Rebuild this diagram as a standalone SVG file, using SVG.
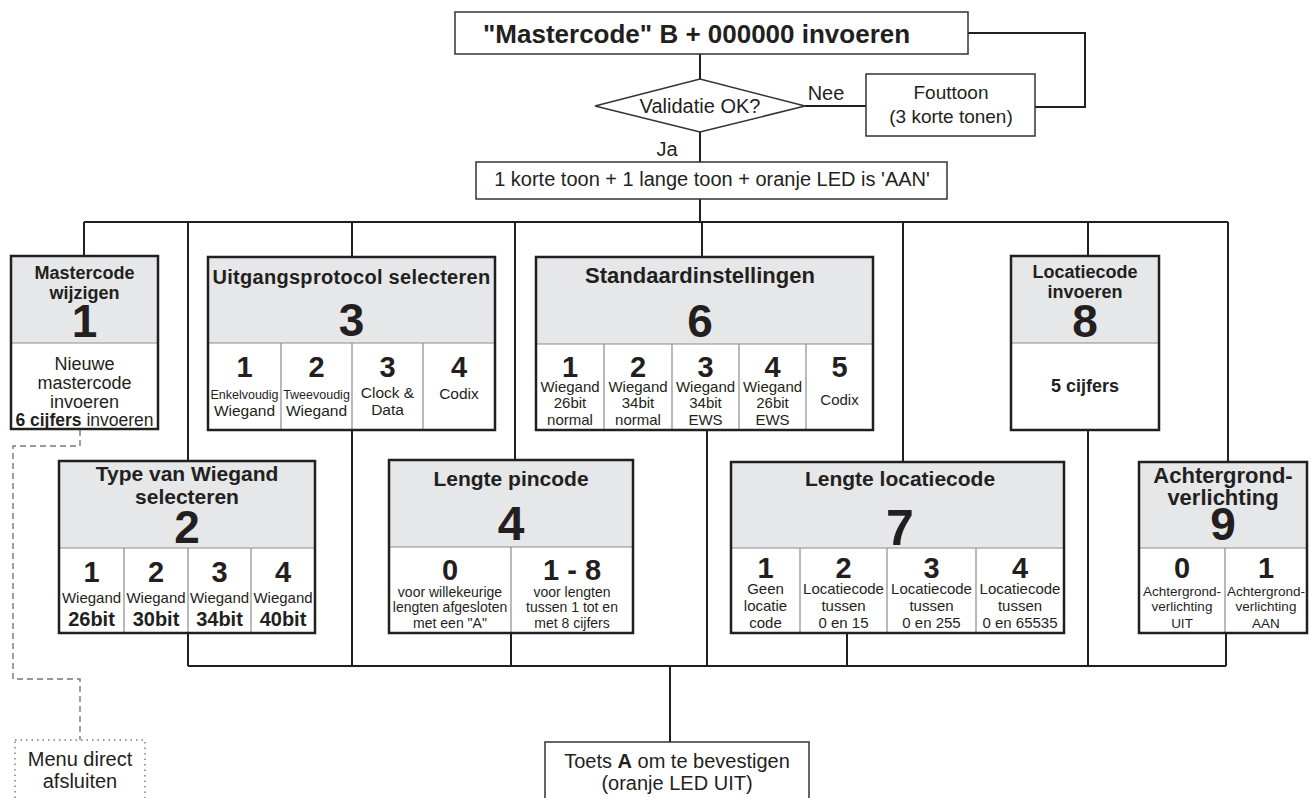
<svg xmlns="http://www.w3.org/2000/svg" width="1309" height="798" viewBox="0 0 1309 798">
<style>
.t{font-family:"Liberation Sans",Arial,sans-serif;fill:#231f20;text-anchor:middle}
.b{font-weight:bold}
.big{font-size:46px;font-weight:bold}
.num{font-size:29px;font-weight:bold}
.box{fill:none;stroke:#231f20;stroke-width:2.5}
.hdr{fill:#e6e7e8;stroke:none}
.cell{fill:#fff;stroke:none}
.div{stroke:#8c8c8c;stroke-width:1.2;fill:none}
.ln{stroke:#231f20;stroke-width:2;fill:none}
.thin{stroke:#333;stroke-width:1.5;fill:#fff}
.dash{stroke:#777;stroke-width:1.4;fill:none;stroke-dasharray:6 4}
.dot{stroke:#777;stroke-width:1.4;fill:#fff;stroke-dasharray:1.5 4}
</style>
<g id="connectors">
<path class="ln" d="M700 54V79M700 132V162M700 199V222"/>
<path class="ln" d="M968 33H1085V107H1035"/>
<path class="ln" d="M805 106H866"/>
<path class="ln" d="M84 222H1228M84 222V256M188 222V461M352 222V257M515 222V460M702 222V257M903 222V462M1088 222V256M1228 222V462"/>
<path class="ln" d="M188 666H1226M188 633V666M352 430V666M511 633V666M707 430V666M847 633V666M1088 430V666M1226 633V666"/>
<path class="ln" d="M670 666V742"/>
<path class="dash" d="M80 430V446H13V679H80V740"/>
</g>
<g id="start">
<rect class="thin" x="455" y="12" width="513" height="42"/>
<text class="t b" x="483" y="43" font-size="26" style="text-anchor:start">"Mastercode" B + 000000 invoeren</text>
</g>
<g id="validatie">
<polygon class="thin" points="595,106 700,79 805,106 700,132"/>
<text class="t" x="700" y="113" font-size="20">Validatie OK?</text>
</g>
<g id="labels">
<text class="t" x="826" y="100" font-size="20">Nee</text>
<text class="t" x="667" y="156" font-size="20">Ja</text>
</g>
<g id="fouttoon">
<rect class="thin" x="866" y="74" width="169" height="62"/>
<text class="t" x="951" y="99" font-size="19">Fouttoon</text>
<text class="t" x="951" y="123" font-size="19">(3 korte tonen)</text>
</g>
<g id="ok">
<rect class="thin" x="476" y="162" width="471" height="37"/>
<text class="t" x="712" y="186" font-size="20">1 korte toon + 1 lange toon + oranje LED is 'AAN'</text>
</g>
<g id="m1">
<rect class="cell" x="11" y="256" width="147" height="173"/>
<rect class="hdr" x="11" y="256" width="147" height="87"/>
<path class="div" d="M11 343H158"/>
<rect class="box" x="11" y="256" width="147" height="173"/>
<text class="t b" x="84.5" y="279" font-size="18">Mastercode</text>
<text class="t b" x="84.5" y="299" font-size="18">wijzigen</text>
<text class="t big" x="84.5" y="337">1</text>
<text class="t" x="84.5" y="370" font-size="18">Nieuwe</text>
<text class="t" x="84.5" y="389" font-size="18">mastercode</text>
<text class="t" x="84.5" y="408" font-size="18">invoeren</text>
<text class="t" x="84.5" y="426" font-size="17.5"><tspan class="b">6 cijfers</tspan> invoeren</text>
</g>
<g id="m3">
<rect class="cell" x="208" y="257" width="287" height="173"/>
<rect class="hdr" x="208" y="257" width="287" height="86"/>
<path class="div" d="M208 343H495M281 343V430M352 343V430M423 343V430"/>
<rect class="box" x="208" y="257" width="287" height="173"/>
<text class="t b" x="351.5" y="284" font-size="20" letter-spacing="0.3">Uitgangsprotocol selecteren</text>
<text class="t big" x="351.5" y="336">3</text>
<text class="t num" x="244.5" y="377">1</text>
<text class="t num" x="316.5" y="377">2</text>
<text class="t num" x="387.5" y="377">3</text>
<text class="t num" x="459" y="377">4</text>
<text class="t" x="244.5" y="399" font-size="12.5">Enkelvoudig</text>
<text class="t" x="244.5" y="416" font-size="15.5">Wiegand</text>
<text class="t" x="316.5" y="399" font-size="12.5">Tweevoudig</text>
<text class="t" x="316.5" y="416" font-size="15.5">Wiegand</text>
<text class="t" x="387.5" y="398" font-size="15.5">Clock &amp;</text>
<text class="t" x="387.5" y="415" font-size="15.5">Data</text>
<text class="t" x="459" y="399" font-size="15.5">Codix</text>
</g>
<g id="m6">
<rect class="cell" x="536" y="257" width="337" height="173"/>
<rect class="hdr" x="536" y="257" width="337" height="87"/>
<path class="div" d="M536 344H873M604 344V430M672 344V430M739 344V430M806 344V430"/>
<rect class="box" x="536" y="257" width="337" height="173"/>
<text class="t b" x="700" y="283" font-size="22">Standaardinstellingen</text>
<text class="t big" x="700" y="337">6</text>
<text class="t num" x="570" y="377">1</text>
<text class="t num" x="638" y="377">2</text>
<text class="t num" x="705.5" y="377">3</text>
<text class="t num" x="772.5" y="377">4</text>
<text class="t num" x="839.5" y="377">5</text>
<g font-size="15">
<text class="t" x="570" y="392">Wiegand</text><text class="t" x="570" y="408">26bit</text><text class="t" x="570" y="425">normal</text>
<text class="t" x="638" y="392">Wiegand</text><text class="t" x="638" y="408">34bit</text><text class="t" x="638" y="425">normal</text>
<text class="t" x="705.5" y="392">Wiegand</text><text class="t" x="705.5" y="408">34bit</text><text class="t" x="705.5" y="425">EWS</text>
<text class="t" x="772.5" y="392">Wiegand</text><text class="t" x="772.5" y="408">26bit</text><text class="t" x="772.5" y="425">EWS</text>
<text class="t" x="839.5" y="405">Codix</text>
</g>
</g>
<g id="m8">
<rect class="cell" x="1011" y="256" width="148" height="174"/>
<rect class="hdr" x="1011" y="256" width="148" height="87"/>
<path class="div" d="M1011 343H1159"/>
<rect class="box" x="1011" y="256" width="148" height="174"/>
<text class="t b" x="1085" y="278" font-size="18">Locatiecode</text>
<text class="t b" x="1085" y="298" font-size="18">invoeren</text>
<text class="t big" x="1085" y="337">8</text>
<text class="t b" x="1085" y="392" font-size="18">5 cijfers</text>
</g>
<g id="m2">
<rect class="cell" x="59" y="461" width="256" height="172"/>
<rect class="hdr" x="59" y="461" width="256" height="87"/>
<path class="div" d="M59 548H315M124 548V633M188 548V633M251 548V633"/>
<rect class="box" x="59" y="461" width="256" height="172"/>
<text class="t b" x="187" y="481" font-size="21">Type van Wiegand</text>
<text class="t b" x="187" y="504" font-size="21">selecteren</text>
<text class="t big" x="187" y="543">2</text>
<text class="t num" x="91.5" y="582">1</text>
<text class="t num" x="156" y="582">2</text>
<text class="t num" x="219.5" y="582">3</text>
<text class="t num" x="283" y="582">4</text>
<g font-size="15">
<text class="t" x="91.5" y="603">Wiegand</text><text class="t" x="156" y="603">Wiegand</text><text class="t" x="219.5" y="603">Wiegand</text><text class="t" x="283" y="603">Wiegand</text>
</g>
<g font-size="20" font-weight="bold">
<text class="t" x="91.5" y="626">26bit</text><text class="t" x="156" y="626">30bit</text><text class="t" x="219.5" y="626">34bit</text><text class="t" x="283" y="626">40bit</text>
</g>
</g>
<g id="m4">
<rect class="cell" x="389" y="460" width="244" height="173"/>
<rect class="hdr" x="389" y="460" width="244" height="87"/>
<path class="div" d="M389 547H633M511 547V633"/>
<rect class="box" x="389" y="460" width="244" height="173"/>
<text class="t b" x="511" y="486" font-size="21">Lengte pincode</text>
<text class="t" x="511" y="540" font-size="48" font-weight="bold">4</text>
<text class="t num" x="450" y="580">0</text>
<text class="t num" x="572" y="580">1 - 8</text>
<g font-size="14">
<text class="t" x="450" y="597">voor willekeurige</text><text class="t" x="450" y="612">lengten afgesloten</text><text class="t" x="450" y="628">met een "A"</text>
<text class="t" x="572" y="597">voor lengten</text><text class="t" x="572" y="612">tussen 1 tot en</text><text class="t" x="572" y="628">met 8 cijfers</text>
</g>
</g>
<g id="m7">
<rect class="cell" x="731" y="462" width="333" height="171"/>
<rect class="hdr" x="731" y="462" width="333" height="86"/>
<path class="div" d="M731 548H1064M800 548V633M887 548V633M976 548V633"/>
<rect class="box" x="731" y="462" width="333" height="171"/>
<text class="t b" x="900" y="486" font-size="21">Lengte locatiecode</text>
<text class="t" x="900" y="545" font-size="50" font-weight="bold">7</text>
<text class="t num" x="765.5" y="578">1</text>
<text class="t num" x="843.5" y="578">2</text>
<text class="t num" x="931.5" y="578">3</text>
<text class="t num" x="1020" y="578">4</text>
<g font-size="15">
<text class="t" x="765.5" y="594">Geen</text><text class="t" x="765.5" y="611">locatie</text><text class="t" x="765.5" y="628">code</text>
<text class="t" x="843.5" y="594">Locatiecode</text><text class="t" x="843.5" y="611">tussen</text><text class="t" x="843.5" y="628">0 en 15</text>
<text class="t" x="931.5" y="594">Locatiecode</text><text class="t" x="931.5" y="611">tussen</text><text class="t" x="931.5" y="628">0 en 255</text>
<text class="t" x="1020" y="594">Locatiecode</text><text class="t" x="1020" y="611">tussen</text><text class="t" x="1020" y="628">0 en 65535</text>
</g>
</g>
<g id="m9">
<rect class="cell" x="1139" y="462" width="168" height="171"/>
<rect class="hdr" x="1139" y="462" width="168" height="86"/>
<path class="div" d="M1139 548H1307M1225 548V633"/>
<rect class="box" x="1139" y="462" width="168" height="171"/>
<text class="t b" x="1223" y="483" font-size="22">Achtergrond-</text>
<text class="t b" x="1223" y="505" font-size="22">verlichting</text>
<text class="t big" x="1223" y="540">9</text>
<text class="t num" x="1182" y="578">0</text>
<text class="t num" x="1266" y="578">1</text>
<g font-size="13.5">
<text class="t" x="1182" y="596">Achtergrond-</text><text class="t" x="1182" y="611">verlichting</text><text class="t" x="1182" y="628">UIT</text>
<text class="t" x="1266" y="596">Achtergrond-</text><text class="t" x="1266" y="611">verlichting</text><text class="t" x="1266" y="628">AAN</text>
</g>
</g>
<g id="bevestigen">
<rect class="thin" x="545" y="742" width="264" height="62"/>
<text class="t" x="677" y="768" font-size="20">Toets <tspan class="b">A</tspan> om te bevestigen</text>
<text class="t" x="677" y="790" font-size="20">(oranje LED UIT)</text>
</g>
<g id="afsluiten">
<rect class="dot" x="15" y="740" width="130" height="64"/>
<text class="t" x="80" y="766" font-size="20">Menu direct</text>
<text class="t" x="80" y="788" font-size="20">afsluiten</text>
</g>
</svg>
